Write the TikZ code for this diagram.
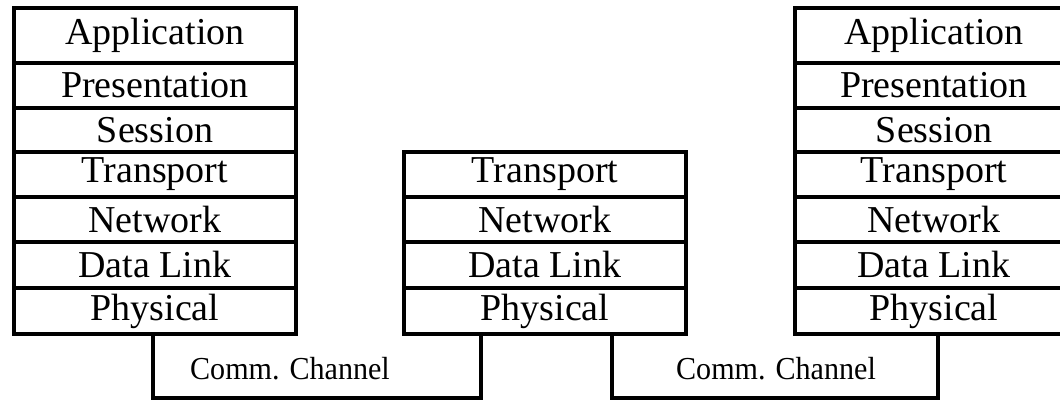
\documentclass[tikz,border=0pt]{standalone}
\usepackage{fontspec}
\setmainfont{Liberation Serif}
\begin{document}
\begin{tikzpicture}[x=0.5pt,y=-0.5pt,
  layer/.style={draw,line width=2pt,rectangle,inner sep=0pt,minimum width=141pt,font=\fontsize{19}{21}\selectfont},
  layertext/.style={inner sep=0pt,font=\fontsize{19}{21}\selectfont},
  chan/.style={line width=2pt},
  chanlabel/.style={inner sep=0pt,xscale=0.94,font=\fontsize{16}{18}\selectfont}]
\useasboundingbox (0,0) rectangle (1060,406);
% left stack
\foreach \name/\txt/\a/\b in {L1/Application/8/63,L2/Presentation/63/108,L3/Session/108/152,L4/Transport/152/197,L5/Network/197/242,L6/Data Link/242/288,L7/Physical/288/334}{
  \pgfmathsetmacro\h{(\b-\a)*0.5}
  \node[layer,minimum height=\h pt] (\name) at (155,{(\a+\b)/2}) {\txt};
}
% middle stack
\foreach \name/\txt/\a/\b in {M4/Transport/152/197,M5/Network/197/242,M6/Data Link/242/288,M7/Physical/288/334}{
  \pgfmathsetmacro\h{(\b-\a)*0.5}
  \node[layer,minimum height=\h pt] (\name) at (545,{(\a+\b)/2}) {\txt};
}
% right stack (cut at right edge)
\foreach \name/\txt/\a/\b in {R1/Application/8/63,R2/Presentation/63/108,R3/Session/108/152,R4/Transport/152/197,R5/Network/197/242,R6/Data Link/242/288,R7/Physical/288/334}{
  \pgfmathsetmacro\h{(\b-\a)*0.5}
  \node[layer,minimum height=\h pt] (\name) at (936,{(\a+\b)/2}) {};
  \node[layertext] (\name t) at (934,{(\a+\b)/2}) {\txt};
}
% channels
\coordinate (c1l) at (153,398);
\coordinate (c1r) at (481,398);
\coordinate (c2l) at (612,398);
\coordinate (c2r) at (938,398);
\draw[chan] (L7.south -| c1l) -- (c1l) -- (c1r) -- (M7.south -| c1r);
\draw[chan] (M7.south -| c2l) -- (c2l) -- (c2r) -- (R7.south -| c2r);
\node[chanlabel] (ch1) at (290,369) {Comm. Channel};
\node[chanlabel] (ch2) at (776,369) {Comm. Channel};
\end{tikzpicture}
\end{document}
